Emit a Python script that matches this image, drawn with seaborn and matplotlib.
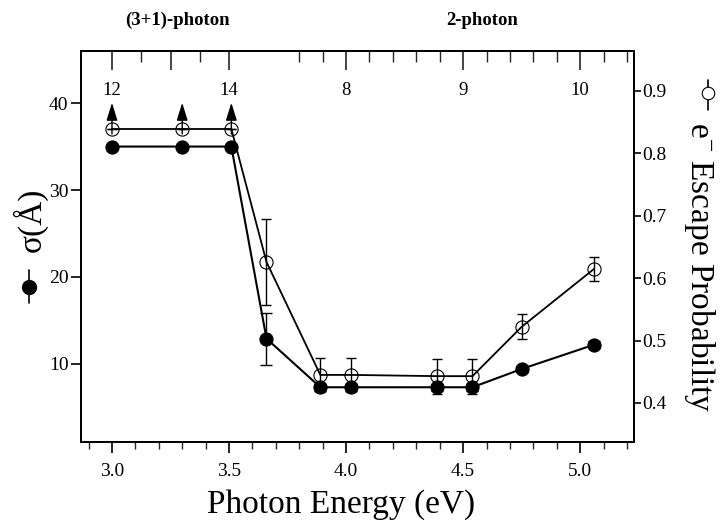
import matplotlib
matplotlib.use("Agg")
import matplotlib.pyplot as plt
from matplotlib.lines import Line2D
import matplotlib.transforms as mtransforms
import numpy as np
import pandas as pd
import seaborn as sns

# Photon energies (eV)
energy = [3.00, 3.30, 3.51, 3.66, 3.89, 4.02, 4.39, 4.54, 4.75, 5.06]
# Attenuation length sigma (Angstrom), left axis
sigma = [35.0, 35.0, 35.0, 12.9, 7.3, 7.3, 7.3, 7.3, 9.4, 12.2]
sigma_err = [0, 0, 0, 3.0, 0.4, 0.4, 0.4, 0.4, 0.4, 0.4]
# Electron escape probability, right axis
escape = [0.839, 0.839, 0.839, 0.626, 0.445, 0.445, 0.443, 0.443, 0.522, 0.615]
escape_err = [0, 0, 0, 0.069, 0.027, 0.027, 0.028, 0.028, 0.020, 0.019]
# Lower limits marked with arrows
limit_energy = [3.00, 3.30, 3.51]
limit_escape = [0.839, 0.839, 0.839]
limit_tip = [0.881, 0.881, 0.881]

# Upper scale labels
top_label_pos = [3.0, 3.5, 4.0, 4.5, 5.0]
top_labels = ["12", "14", "8", "9", "10"]
top_major = [3.0, 3.25, 3.5, 4.0, 4.5, 5.0]
top_minor = [3.125, 3.375, 3.8, 3.9, 4.1, 4.2, 4.3, 4.4, 4.6, 4.7, 4.8, 4.9, 5.1, 5.2]

regime_names = ["(3+1)-photon", "2-photon"]
regime_pos = [3.28, 4.58]

sns.set_theme(style="ticks")
plt.rcParams["font.family"] = ["Liberation Serif", "DejaVu Serif"]
plt.rcParams["mathtext.fontset"] = "custom"
plt.rcParams["mathtext.rm"] = "Liberation Serif"
plt.rcParams["mathtext.default"] = "regular"

df = pd.DataFrame({"energy": energy, "sigma": sigma, "escape": escape})

fig = plt.figure(figsize=(7.21, 5.24), dpi=100)
ax = fig.add_axes([0.1123, 0.1565, 0.7670, 0.7462])
ax2 = ax.twinx()

# sigma series (filled)
sns.lineplot(data=df, x="energy", y="sigma", ax=ax, color="black", lw=1.5,
             marker="o", markersize=9.5, markerfacecolor="black",
             markeredgecolor="black", zorder=3)
ax.errorbar(energy, sigma, yerr=sigma_err, fmt="none", ecolor="black",
            elinewidth=1.0, capsize=4.5, capthick=1.0, zorder=3)

# escape probability series (open)
sns.lineplot(data=df, x="energy", y="escape", ax=ax2, color="black", lw=1.3,
             marker="o", markersize=9.5, markerfacecolor="none",
             markeredgecolor="black", markeredgewidth=0.8, zorder=3)
ax2.errorbar(energy, escape, yerr=escape_err, fmt="none", ecolor="black",
             elinewidth=1.0, capsize=3.5, capthick=1.0, zorder=3)
for xe, y0, y1 in zip(limit_energy, limit_escape, limit_tip):
    ax2.annotate("", xy=(xe, y1), xytext=(xe, y0 - 0.008),
                 arrowprops=dict(arrowstyle="-|>,head_length=0.9,head_width=0.28",
                                 color="black", lw=1.0, shrinkA=0, shrinkB=0))

ax.set_xlim(2.8675, 5.23)
ax.set_ylim(1.0, 46.0)
ax2.set_ylim(0.3375, 0.964)

ax.set_xticks(np.arange(3.0, 5.01, 0.5))
ax.set_xticks(np.arange(2.9, 5.21, 0.1), minor=True)
ax.set_xticklabels(["3.0", "3.5", "4.0", "4.5", "5.0"])
ax.set_yticks([10, 20, 30, 40])
ax2.set_yticks([0.4, 0.5, 0.6, 0.7, 0.8, 0.9])
ax2.set_yticklabels(["0.4", "0.5", "0.6", "0.7", "0.8", "0.9"])

ax.set_xlabel("")
ax.set_ylabel("")
ax2.set_ylabel("")
ax2.set_xlabel("")

for a in (ax, ax2):
    for s in a.spines.values():
        s.set_visible(True)
        s.set_linewidth(1.4)
        s.set_color("black")

ax.tick_params(axis="x", which="major", direction="out", length=8, width=1.2,
               labelsize=14, pad=7, colors="black", top=False)
ax.tick_params(axis="x", which="minor", direction="out", length=5, width=1.0,
               top=False)
ax.tick_params(axis="y", which="major", direction="out", length=7, width=1.2,
               labelsize=14, pad=2, colors="black")
ax2.tick_params(axis="y", which="major", direction="out", length=5, width=1.2,
                labelsize=14, pad=1, colors="black")

# upper scale ticks
sec = ax.secondary_xaxis("top")
sec.set_xticks(top_major)
sec.set_xticks(top_minor, minor=True)
sec.tick_params(which="major", direction="in", length=14, width=1.2,
                labeltop=False)
sec.tick_params(which="minor", direction="in", length=8, width=1.0,
                labeltop=False)
sec.spines["top"].set_linewidth(1.4)

trans = mtransforms.blended_transform_factory(ax.transData, ax.transAxes)
for xp, lab in zip(top_label_pos, top_labels):
    ax.text(xp, 0.90, lab, transform=trans, ha="center", va="center",
            fontsize=13.5, color="black")
for xp, name in zip(regime_pos, regime_names):
    ax.text(xp, 1.079, name, transform=trans, ha="center", va="center",
            fontsize=13.5, fontweight="bold", color="black")

fig.text(341 / 721, 1 - 513 / 524, "Photon Energy (eV)", ha="center",
         va="baseline", fontsize=24, color="black")

# left axis label with its symbol
fig.text(30 / 721, 1 - 220 / 524, "σ(Å)", rotation=90, ha="center",
         va="center", fontsize=24, color="black")
fig.add_artist(Line2D([29 / 721, 29 / 721], [1 - 270 / 524, 1 - 303 / 524],
                      color="black", lw=1.2, transform=fig.transFigure))
fig.add_artist(Line2D([29 / 721], [1 - 287 / 524], marker="o", markersize=10,
                      color="black", transform=fig.transFigure))

# right axis label with its symbol
fig.text(700 / 721, 1 - 267 / 524, r"e$^{-}$ Escape Probability", rotation=270,
         ha="center", va="center", fontsize=24, color="black")
fig.add_artist(Line2D([708 / 721, 708 / 721], [1 - 80 / 524, 1 - 110 / 524],
                      color="black", lw=1.2, transform=fig.transFigure))
fig.add_artist(Line2D([708 / 721], [1 - 93 / 524], marker="o", markersize=9,
                      markerfacecolor="white", markeredgecolor="black",
                      markeredgewidth=0.8, transform=fig.transFigure))

fig.savefig("out.png", dpi=100)
